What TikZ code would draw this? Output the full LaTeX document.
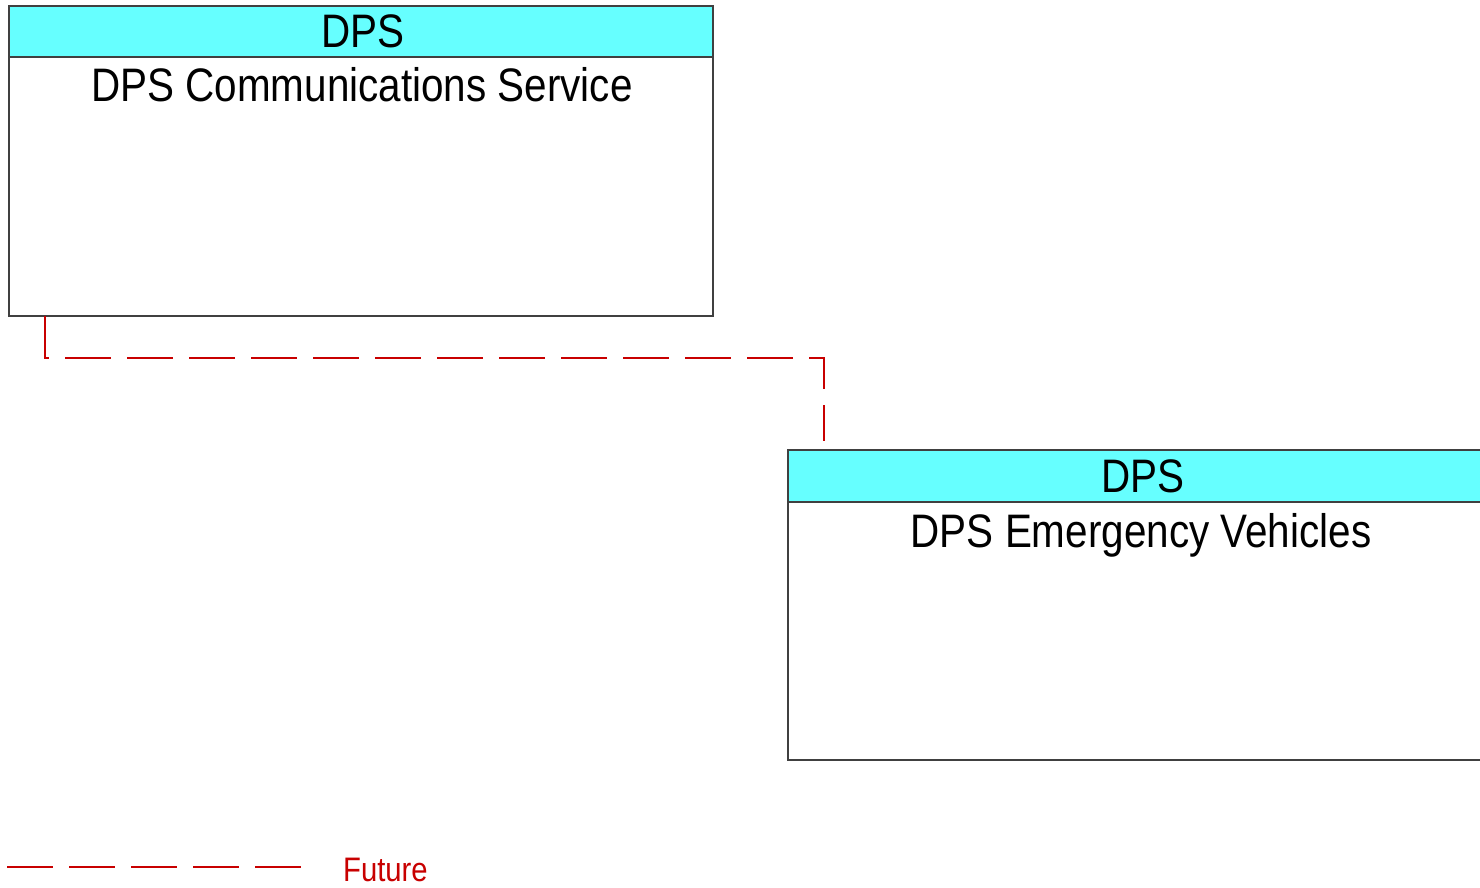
\documentclass[tikz,border=0pt]{standalone}
\usepackage{fontspec}
\setmainfont{Liberation Sans}
\newfontfamily\condfont[FakeStretch=0.86]{Liberation Sans}
\definecolor{hdrcyan}{HTML}{66FFFF}
\definecolor{boxline}{HTML}{404040}
\definecolor{futred}{HTML}{C80000}
\begin{document}
\begin{tikzpicture}[x=1pt,y=-1pt,
  boxframe/.style={draw=boxline,line width=1.2pt},
  hdrfill/.style={fill=hdrcyan,draw=boxline,line width=1.2pt},
  boxtext/.style={inner sep=0pt,font=\condfont\fontsize{47}{47}\selectfont,text=black},
  futureline/.style={draw=futred,line width=1.1pt,dash pattern=on 46pt off 16pt},
  legendtext/.style={inner sep=0pt,font=\condfont\fontsize{34}{34}\selectfont,text=futred,anchor=base west}]
\useasboundingbox (0,0) rectangle (1480,887);
\clip (0,0) rectangle (1480,887);
% box 1
\path[hdrfill] (9,6) rectangle (713,57);
\path[boxframe] (9,57) rectangle (713,316);
\node[boxtext] (h1) at (363,31) {DPS};
\node[boxtext,anchor=base] (t1) at (362,101) {DPS Communications Service};
\coordinate (b1) at (45,316);
% box 2
\path[hdrfill] (788,450) rectangle (1498,502);
\path[boxframe] (788,502) rectangle (1498,760);
\node[boxtext] (h2) at (1143,476) {DPS};
\node[boxtext,anchor=base] (t2) at (1141,547) {DPS Emergency Vehicles};
\coordinate (b2) at (824,441);
% connector
\draw[futureline] (b1) -- (45,358) -- (824,358) -- (b2);
% legend
\coordinate (l1) at (7,867);
\coordinate (l2) at (301,867);
\draw[futureline] (l1) -- (l2);
\node[legendtext] (lg) at (343,881) {Future};
\end{tikzpicture}
\end{document}
